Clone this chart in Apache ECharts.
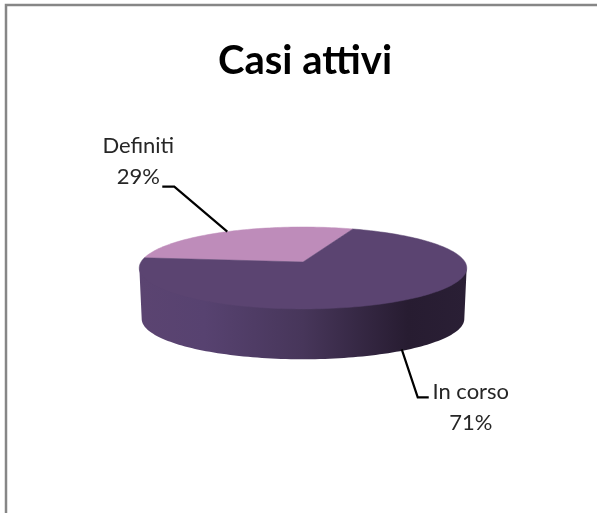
<!DOCTYPE html>
<html>
<head>
<meta charset="utf-8">
<style>html,body{margin:0;padding:0;background:#fff;overflow:hidden}#c{width:597px;height:513px}</style>
<script src="https://cdn.jsdelivr.net/npm/echarts@6/dist/echarts.min.js"></script>
</head>
<body>
<div id="c"></div>
<script>
const chartTitle = 'Casi attivi';
const categories = ['Definiti', 'In corso'];
const values = [29, 71];

const topColors = ['#be8cba', '#5b4471'];
const sideStops = [
  { offset: 0, color: '#5b4471' }, { offset: 0.2, color: '#574270' },
  { offset: 0.5, color: '#47365a' }, { offset: 0.82, color: '#271c31' },
  { offset: 1, color: '#2a1f35' }
];
// Projection of the flat disc: centre, radii, perspective strength, extrusion
const disc = { cx: 303, cy: 262, a: 162, b: 40.1, k: 0.146, depth: 51, shrink: 0.985, start: 69.5 };
// Annotation layout relative to each slice's rim anchor
const leaders = [
  { start: [0, 0], elbow: [-53, -45], end: [-65, -45], label: [-89, -70], onSide: false },
  { start: [3, -2], elbow: [19, 46], end: [30, 46], label: [72, 56], onSide: true }
];

const total = values.reduce((s, v) => s + v, 0);
function rim(deg, lower) {
  const t = deg * Math.PI / 180, u = Math.cos(t), v = Math.sin(t), w = 1 + disc.k * v;
  const x = disc.a * u / w, y = -disc.b * v / w;
  return lower
    ? [disc.cx + x * disc.shrink, disc.cy + y * disc.shrink + disc.depth]
    : [disc.cx + x, disc.cy + y];
}
function arc(from, to, lower) {
  const pts = [], n = Math.max(2, Math.ceil(Math.abs(to - from) / 1.5));
  for (let i = 0; i <= n; i++) pts.push(rim(from + (to - from) * i / n, lower));
  return pts;
}
function sliceRange(idx) {
  let before = 0;
  for (let i = 0; i < idx; i++) before += values[i];
  return [disc.start + before / total * 360, disc.start + (before + values[idx]) / total * 360];
}

function renderItem(params, api) {
  const i = params.dataIndex, value = api.value(0);
  const [from, to] = sliceRange(i);
  const children = [];
  // visible wall: front half of the silhouette, tucked slightly under the top face
  const tangent = Math.asin(disc.k) * 180 / Math.PI;
  const wallFrom = Math.max(from, 180 + tangent), wallTo = Math.min(to, 360 - tangent);
  if (wallTo > wallFrom) {
    const upper = arc(wallFrom, wallTo, false).map(p => [p[0], p[1] - 2]);
    children.push({
      type: 'polygon',
      shape: { points: upper.concat(arc(wallTo, wallFrom, true)) },
      style: { fill: { type: 'linear', x: 0, y: 0, x2: 1, y2: 0, colorStops: sideStops } }
    });
  }
  children.push({
    type: 'polygon',
    shape: { points: [[disc.cx, disc.cy]].concat(arc(from, to, false)) },
    style: { fill: topColors[i], stroke: topColors[i], lineWidth: 0.5 }
  });
  const l = leaders[i], a = rim((from + to) / 2, l.onSide);
  children.push({
    type: 'polyline', z2: 5,
    shape: { points: [
      [a[0] + l.start[0], a[1] + l.start[1]],
      [a[0] + l.elbow[0], a[1] + l.elbow[1]],
      [a[0] + l.end[0], a[1] + l.end[1]]
    ] },
    style: { stroke: '#000', lineWidth: 2.2, fill: null }
  });
  children.push({
    type: 'text', z2: 6,
    x: a[0] + l.label[0], y: a[1] + l.label[1],
    style: {
      text: categories[i] + '\n' + Math.round(value / total * 100) + '%',
      fontFamily: 'Lato', fontSize: 22, lineHeight: 31, fill: '#262626',
      align: 'center', verticalAlign: 'middle'
    }
  });
  return { type: 'group', children };
}

const chart = echarts.init(document.getElementById('c'), null, { renderer: 'canvas' });
chart.setOption({
  animation: false,
  backgroundColor: '#fff',
  title: {
    text: chartTitle, left: 300, top: 36, textAlign: 'center',
    textStyle: { fontFamily: 'Lato', fontWeight: 'bold', fontSize: 40, color: '#000' }
  },
  graphic: [{
    type: 'rect', silent: true,
    shape: { x: 6, y: 5, width: 800, height: 800 },
    style: { fill: null, stroke: '#868686', lineWidth: 2.5 }
  }],
  series: [{
    type: 'custom', coordinateSystem: 'none', silent: true, renderItem,
    data: values.map((v, i) => ({ name: categories[i], value: [v] }))
  }]
});
</script>
</body>
</html>
